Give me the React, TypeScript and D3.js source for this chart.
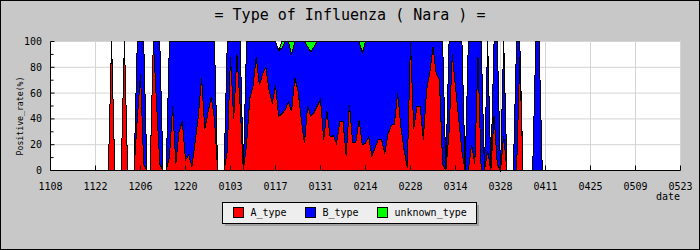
import React from "react";
import * as d3 from "d3";

const W = 700;
const H = 250;

// Title / axis texts
const title = "= Type of Influenza ( Nara ) =";
const yAxisTitle = "Positive_rate(%)";
const xAxisTitle = "date";

// x axis: days counted from 1108, ticks every 14 days
const xTickLabels = ["1108", "1122", "1206", "1220", "0103", "0117", "0131", "0214", "0228", "0314", "0328", "0411", "0425", "0509", "0523"];
const tickStepDays = 14;
const yTicks = [0, 20, 40, 60, 80, 100];
const yMinorTicks = [10, 30, 50, 70, 90];

// Daily data start (day 18 after 1108 = 1126); null = no samples
const startDay = 18;
const aType: (number | null)[] = [
  null, 100, null, null, null, 100, null, null, null, 40,
  75, 5, null, null, 100, 52, 5, null, null, 10,
  50, 5, 30, 38, 8, 12, 3, 22, 42, 72,
  32, 45, 57, 40, null, null, null, 15, 88, 40,
  90, 50, null, 20, 56, 65, 88, 66, 75, 80,
  62, 52, 66, 42, 44, 47, 53, 46, 72, 62,
  40, 21, 50, 42, 45, 50, 55, 24, 46, 26,
  27, 21, 38, 38, 11, 51, 22, 22, 39, 20,
  21, 26, 11, 18, 24, 24, 13, 28, 35, 36,
  60, 34, 16, 2, 100, 32, 50, 50, 24, 62,
  76, 96, 75, 70, 5, null, 30, 90, 65, 40,
  15, null, 0, 20, 5, 88, 0, null, 15, null,
  42, 5, null, 27, null, null, null, 0, 88, null,
  null, null, null, 0, 0, null,
];
const bType: (number | null)[] = [
  null, 0, null, null, null, 0, null, null, null, 60,
  25, 95, null, null, 0, 48, 95, null, null, 90,
  50, 95, 70, 62, 92, 88, 97, 78, 58, 28,
  68, 55, 43, 60, null, null, null, 85, 12, 60,
  10, 50, null, 80, 44, 35, 12, 34, 25, 20,
  38, 48, 34, 51, 51, 53, 47, 44, 28, 38,
  60, 79, 46, 50, 51, 50, 45, 76, 54, 74,
  73, 79, 62, 62, 89, 49, 78, 78, 61, 71,
  79, 74, 89, 82, 76, 76, 87, 72, 65, 64,
  40, 66, 84, 98, 0, 68, 50, 50, 76, 38,
  24, 4, 25, 30, 95, null, 70, 10, 35, 60,
  85, null, 100, 80, 95, 12, 100, null, 85, null,
  58, 95, null, 73, null, null, null, 100, 12, null,
  null, null, null, 100, 100, null,
];
const unknownType: (number | null)[] = [
  null, 0, null, null, null, 0, null, null, null, 0,
  0, 0, null, null, 0, 0, 0, null, null, 0,
  0, 0, 0, 0, 0, 0, 0, 0, 0, 0,
  0, 0, 0, 0, null, null, null, 0, 0, 0,
  0, 0, null, 0, 0, 0, 0, 0, 0, 0,
  0, 0, 0, 0, 5, 0, 0, 10, 0, 0,
  0, 0, 4, 8, 4, 0, 0, 0, 0, 0,
  0, 0, 0, 0, 0, 0, 0, 0, 0, 9,
  0, 0, 0, 0, 0, 0, 0, 0, 0, 0,
  0, 0, 0, 0, 0, 0, 0, 0, 0, 0,
  0, 0, 0, 0, 0, null, 0, 0, 0, 0,
  0, null, 0, 0, 0, 0, 0, null, 0, null,
  0, 0, null, 0, null, null, null, 0, 0, null,
  null, null, null, 0, 0, null,
];

const seriesNames = ["A_type", "B_type", "unknown_type"];
const seriesColors = ["#ff0000", "#0000ff", "#00ff00"];

const MONO = "'DejaVu Sans Mono', 'Liberation Mono', monospace";

export default function App() {
  const totalDays = (xTickLabels.length - 1) * tickStepDays;
  const x = d3.scaleLinear().domain([0, totalDays]).range([50.5, 680.5]);
  const y = d3.scaleLinear().domain([0, 100]).range([170.5, 41.5]);

  const rows = aType.map((a, i) => {
    const av = a ?? 0;
    const bv = bType[i] ?? 0;
    const uv = unknownType[i] ?? 0;
    return { day: startDay + i, a: av, b: bv, u: uv };
  });

  const areaA = d3
    .area<(typeof rows)[number]>()
    .x((d) => x(d.day))
    .y0(() => y(0))
    .y1((d) => y(d.a));
  const areaB = d3
    .area<(typeof rows)[number]>()
    .x((d) => x(d.day))
    .y0((d) => y(d.a))
    .y1((d) => y(d.a + d.b));
  const areaU = d3
    .area<(typeof rows)[number]>()
    .x((d) => x(d.day))
    .y0((d) => y(d.a + d.b))
    .y1((d) => y(d.a + d.b + d.u));

  const areas = [areaA(rows), areaB(rows), areaU(rows)];
  const xTicks = xTickLabels.map((label, i) => ({ label, day: i * tickStepDays }));

  const legendX = [233, 305, 377];

  return (
    <svg
      width={W}
      height={H}
      style={{ position: "fixed", left: 0, top: 0, display: "block" }}
      fontFamily={MONO}
    >
      <rect x={0} y={0} width={W} height={H} fill="#c8c8c8" />
      <rect x={0.5} y={0.5} width={W - 1} height={H - 1} fill="none" stroke="#000" />

      <text x={350} y={20} textAnchor="middle" fontSize={15} fill="#000">
        {title}
      </text>

      {/* plot background */}
      <rect x={x(0)} y={y(100) - 0.5} width={x(totalDays) - x(0)} height={y(0) - y(100) + 0.5} fill="#fff" />

      {/* grid */}
      {yTicks
        .filter((t) => t > 0)
        .map((t) => (
          <line key={"gy" + t} x1={x(0)} x2={x(totalDays)} y1={y(t)} y2={y(t)} stroke="#d4d4d4" />
        ))}
      {xTicks.slice(1).map((t) => (
        <line key={"gx" + t.day} x1={x(t.day)} x2={x(t.day)} y1={y(0)} y2={y(100)} stroke="#d4d4d4" />
      ))}

      {/* stacked areas */}
      {areas.map((p, i) => (
        <path
          key={seriesNames[i]}
          d={p || ""}
          fill={seriesColors[i]}
          stroke="#000"
          strokeWidth={1}
          strokeLinejoin="miter"
          shapeRendering="crispEdges"
        />
      ))}

      {/* axes */}
      <line x1={x(0)} x2={x(0)} y1={y(100)} y2={y(0)} stroke="#000" />
      <line x1={x(0)} x2={x(totalDays)} y1={y(0)} y2={y(0)} stroke="#000" />

      {yTicks.map((t) => (
        <g key={"yt" + t}>
          <line x1={x(0)} x2={x(0) + 4} y1={y(t)} y2={y(t)} stroke="#000" />
          <text x={42} y={y(t) + 3.5} textAnchor="end" fontSize={10} fill="#000">
            {t}
          </text>
        </g>
      ))}
      {yMinorTicks.map((t) => (
        <line key={"ym" + t} x1={x(0)} x2={x(0) + 3} y1={y(t)} y2={y(t)} stroke="#000" />
      ))}

      {xTicks.map((t) => (
        <g key={"xt" + t.day}>
          <line x1={x(t.day)} x2={x(t.day)} y1={y(0)} y2={y(0) - 5} stroke="#000" />
          <text x={x(t.day)} y={190} textAnchor="middle" fontSize={10} fill="#000">
            {t.label}
          </text>
        </g>
      ))}

      <text x={680} y={200} textAnchor="end" fontSize={10} fill="#000">
        {xAxisTitle}
      </text>

      <text
        transform={`translate(23, 116) rotate(-90)`}
        textAnchor="middle"
        fontSize={8.2}
        fill="#000"
      >
        {yAxisTitle}
      </text>

      {/* legend */}
      <rect x={225} y={205} width={254} height={21} fill="#a0a0a0" />
      <rect x={222.5} y={202.5} width={254} height={21} fill="#eeeeee" stroke="#000" />
      {seriesNames.map((name, i) => (
        <g key={"lg" + name}>
          <rect x={legendX[i] + 0.5} y={207.5} width={10} height={10} fill={seriesColors[i]} stroke="#000" />
          <text x={legendX[i] + 17.5} y={216} fontSize={10} fill="#000">
            {name}
          </text>
        </g>
      ))}
    </svg>
  );
}
